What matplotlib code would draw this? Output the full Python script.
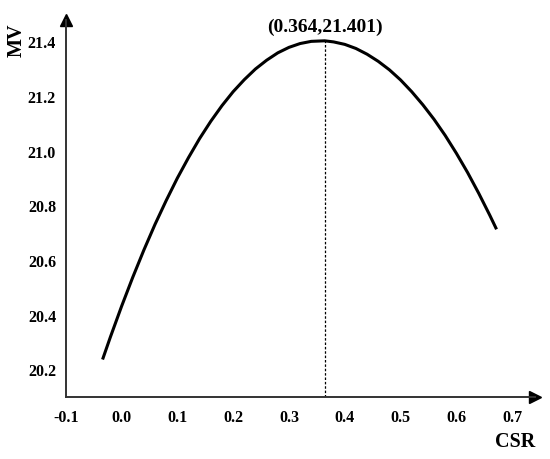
import matplotlib.pyplot as plt

# values
csr = [-0.034, -0.02, 0.00, 0.02, 0.04, 0.06, 0.08, 0.10, 0.12, 0.14,
       0.16, 0.18, 0.20, 0.22, 0.24, 0.26, 0.28, 0.30, 0.32, 0.34,
       0.364, 0.38, 0.40, 0.42, 0.44, 0.46, 0.48, 0.50, 0.52, 0.54,
       0.56, 0.58, 0.60, 0.62, 0.64, 0.66, 0.672]
mv = [20.236, 20.318, 20.430, 20.536, 20.636, 20.730, 20.817, 20.899, 20.974, 21.044,
      21.107, 21.164, 21.215, 21.259, 21.298, 21.330, 21.357, 21.377, 21.391, 21.399,
      21.401, 21.397, 21.388, 21.373, 21.352, 21.326, 21.295, 21.258, 21.215, 21.167,
      21.114, 21.055, 20.990, 20.920, 20.844, 20.763, 20.712]
peak_x = 0.364
peak_y = 21.401
x_ticks = [-0.1, 0.0, 0.1, 0.2, 0.3, 0.4, 0.5, 0.6, 0.7]
y_ticks = [20.2, 20.4, 20.6, 20.8, 21.0, 21.2, 21.4]

plt.rcParams['font.family'] = ['Liberation Serif', 'DejaVu Serif']
plt.rcParams['font.weight'] = 'bold'

fig = plt.figure(figsize=(5.5, 4.6), dpi=100)
ax = fig.add_axes([0.1195, 0.1354, 0.8533, 0.8189])

ax.plot(csr, mv, color='black', lw=2.2, solid_capstyle='butt')
ax.plot([peak_x, peak_x], [20.1, peak_y], color='black', lw=0.9, linestyle=(0, (2, 1.5)))
ax.text(peak_x, peak_y + 0.022, '(0.364,21.401)', ha='center', va='bottom',
        fontsize=14, fontweight='bold')

ax.set_xlim(-0.1, 0.741)
ax.set_ylim(20.1, 21.477)
ax.set_xticks(x_ticks)
ax.set_xticklabels(['%.1f' % v for v in x_ticks])
ax.set_yticks(y_ticks)
ax.set_yticklabels(['%.1f' % v for v in y_ticks])
ax.tick_params(length=0, labelsize=11.5)
ax.tick_params(axis='x', pad=9)
ax.tick_params(axis='y', pad=7)

for s in ['top', 'right']:
    ax.spines[s].set_visible(False)
for s in ['left', 'bottom']:
    ax.spines[s].set_color('#333333')
    ax.spines[s].set_linewidth(1.4)

# arrow heads on the axes
ax.plot(1, 0, '>', color='black', ms=8, transform=ax.transAxes, clip_on=False)
ax.plot(0, 1, '^', color='black', ms=8, transform=ax.transAxes, clip_on=False)

fig.text(17 / 550, 1 - 40 / 460, 'MV', rotation=90, ha='center', va='center',
         fontsize=14.5, fontweight='bold')
fig.text(515 / 550, 1 - 442 / 460, 'CSR', ha='center', va='center',
         fontsize=14.5, fontweight='bold')

fig.savefig('out.png', dpi=100)
